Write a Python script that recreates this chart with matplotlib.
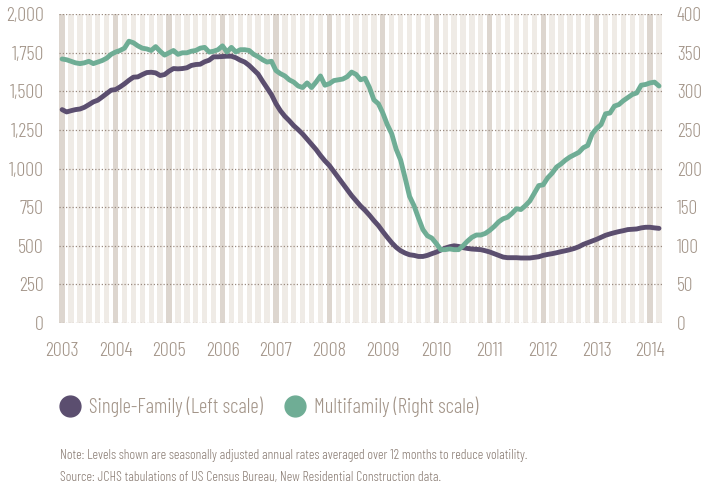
import numpy as np
import matplotlib
matplotlib.use("Agg")
import matplotlib.pyplot as plt
from matplotlib.lines import Line2D

# monthly values, Jan 2003 - Mar 2014 (thousands, 12-month averages)
single_family = [
    1382, 1367, 1375, 1382, 1386, 1397, 1414, 1432, 1443, 1464, 1486, 1508,
    1512, 1529, 1549, 1572, 1592, 1594, 1609, 1622, 1624, 1620, 1603, 1609,
    1631, 1648, 1646, 1648, 1653, 1668, 1674, 1676, 1692, 1702, 1724, 1724,
    1726, 1728, 1728, 1718, 1702, 1690, 1668, 1640, 1612, 1566, 1523, 1479,
    1421, 1375, 1339, 1310, 1278, 1252, 1224, 1191, 1159, 1124, 1085, 1050,
    1020, 981, 942, 903, 864, 825, 791, 758, 730, 698, 663, 631,
    592, 555, 520, 490, 468, 453, 442, 438, 431, 431, 438, 449,
    459, 472, 485, 494, 500, 496, 488, 483, 479, 477, 475, 468,
    460, 449, 438, 427, 423, 423, 423, 421, 421, 421, 425, 429,
    438, 444, 449, 455, 462, 468, 475, 483, 494, 509, 520, 531,
    542, 555, 568, 577, 585, 592, 598, 605, 607, 609, 616, 620,
    620, 616, 613,
]
multifamily = [
    342, 341, 339, 337, 336, 337, 339, 336, 338, 340, 343, 348,
    351, 353, 356, 365, 363, 359, 356, 355, 353, 358, 352, 347,
    350, 353, 348, 350, 350, 352, 353, 356, 357, 351, 352, 354,
    359, 351, 357, 351, 354, 354, 353, 348, 345, 341, 338, 339,
    327, 323, 320, 315, 312, 307, 305, 311, 305, 312, 320, 308,
    310, 314, 315, 316, 319, 325, 322, 315, 317, 305, 289, 284,
    272, 257, 245, 225, 211, 188, 164, 152, 136, 121, 113, 110,
    103, 95, 95, 96, 95, 95, 100, 106, 111, 114, 114, 116,
    120, 125, 131, 135, 137, 142, 148, 147, 152, 158, 168, 178,
    179, 188, 194, 202, 206, 211, 215, 218, 221, 227, 230, 245,
    252, 257, 271, 272, 281, 283, 288, 292, 296, 298, 308, 309,
    311, 312, 307,
]
years = list(range(2003, 2015))
left_ticks = [0, 250, 500, 750, 1000, 1250, 1500, 1750, 2000]
right_ticks = [0, 50, 100, 150, 200, 250, 300, 350, 400]

purple = "#5b4e6f"
green = "#6fad95"
txt = "#a39589"
fam = ["Barlow Condensed", "Roboto Condensed", "Liberation Sans Narrow", "DejaVu Sans"]

months = np.arange(len(single_family))

fig = plt.figure(figsize=(7.02, 4.86), dpi=100)
ax = fig.add_axes([59 / 702, 1 - 323 / 486, 604 / 702, 308.8 / 486])
ax2 = ax.twinx()

# background stripes, every other month, January darker
stripe_x = months[::2]
stripe_col = ["#ddd6cf" if m % 12 == 0 else "#efebe6" for m in stripe_x]
ax.bar(stripe_x, [left_ticks[-1]] * len(stripe_x), width=1.2, color=stripe_col,
       align="center", zorder=1)

ax.plot(months, single_family, color=purple, lw=3.5, zorder=3,
        solid_capstyle="round", solid_joinstyle="round")
ax2.plot(months, multifamily, color=green, lw=3.5, zorder=3,
         solid_capstyle="round", solid_joinstyle="round")

ax.set_xlim(-0.7, len(months) - 0.1)
ax.set_ylim(left_ticks[0], left_ticks[-1])
ax2.set_ylim(right_ticks[0], right_ticks[-1])

ax.set_axisbelow(False)
ax.grid(axis="y", color="#9a8b80", lw=0.9, linestyle=(0, (1, 1.6)))
ax.grid(axis="x", visible=False)

ax.set_yticks(left_ticks)
ax.set_yticklabels([f"{v:,}" for v in left_ticks])
ax2.set_yticks(right_ticks)
ax2.set_yticklabels([str(v) for v in right_ticks])
ax.set_xticks(months[::12])
ax.set_xticklabels([str(y) for y in years])

for a in (ax, ax2):
    for s in a.spines.values():
        s.set_visible(False)
    a.tick_params(length=0, labelcolor=txt, labelsize=14.5)
    for lab in a.get_xticklabels() + a.get_yticklabels():
        lab.set_family(fam)
        lab.set_fontweight(300)
ax.tick_params(axis="y", pad=11)
ax2.tick_params(axis="y", pad=10, labelsize=14)
ax.tick_params(axis="x", pad=14)

handles = [
    Line2D([], [], marker="o", ls="none", ms=15, color=purple),
    Line2D([], [], marker="o", ls="none", ms=15, color=green),
]
fig.legend(handles, ["Single-Family (Left scale)", "Multifamily (Right scale)"],
           loc="center left", bbox_to_anchor=(59.5 / 702, 1 - 407 / 486), ncol=2,
           frameon=False, handlelength=1.0, handletextpad=0.4, columnspacing=1.05,
           borderpad=0, borderaxespad=0,
           prop={"family": fam, "size": 15, "weight": 300}, labelcolor=txt)

notes_col = "#8c7f76"
fig.text(60 / 702, 1 - 455 / 486,
         "Note: Levels shown are seasonally adjusted annual rates averaged over 12 months to reduce volatility.",
         fontsize=10, color=notes_col, family=fam, weight=300, va="center")
fig.text(60 / 702, 1 - 477 / 486,
         "Source: JCHS tabulations of US Census Bureau, New Residential Construction data.",
         fontsize=10, color=notes_col, family=fam, weight=300, va="center")

fig.savefig("out.png", dpi=100)
